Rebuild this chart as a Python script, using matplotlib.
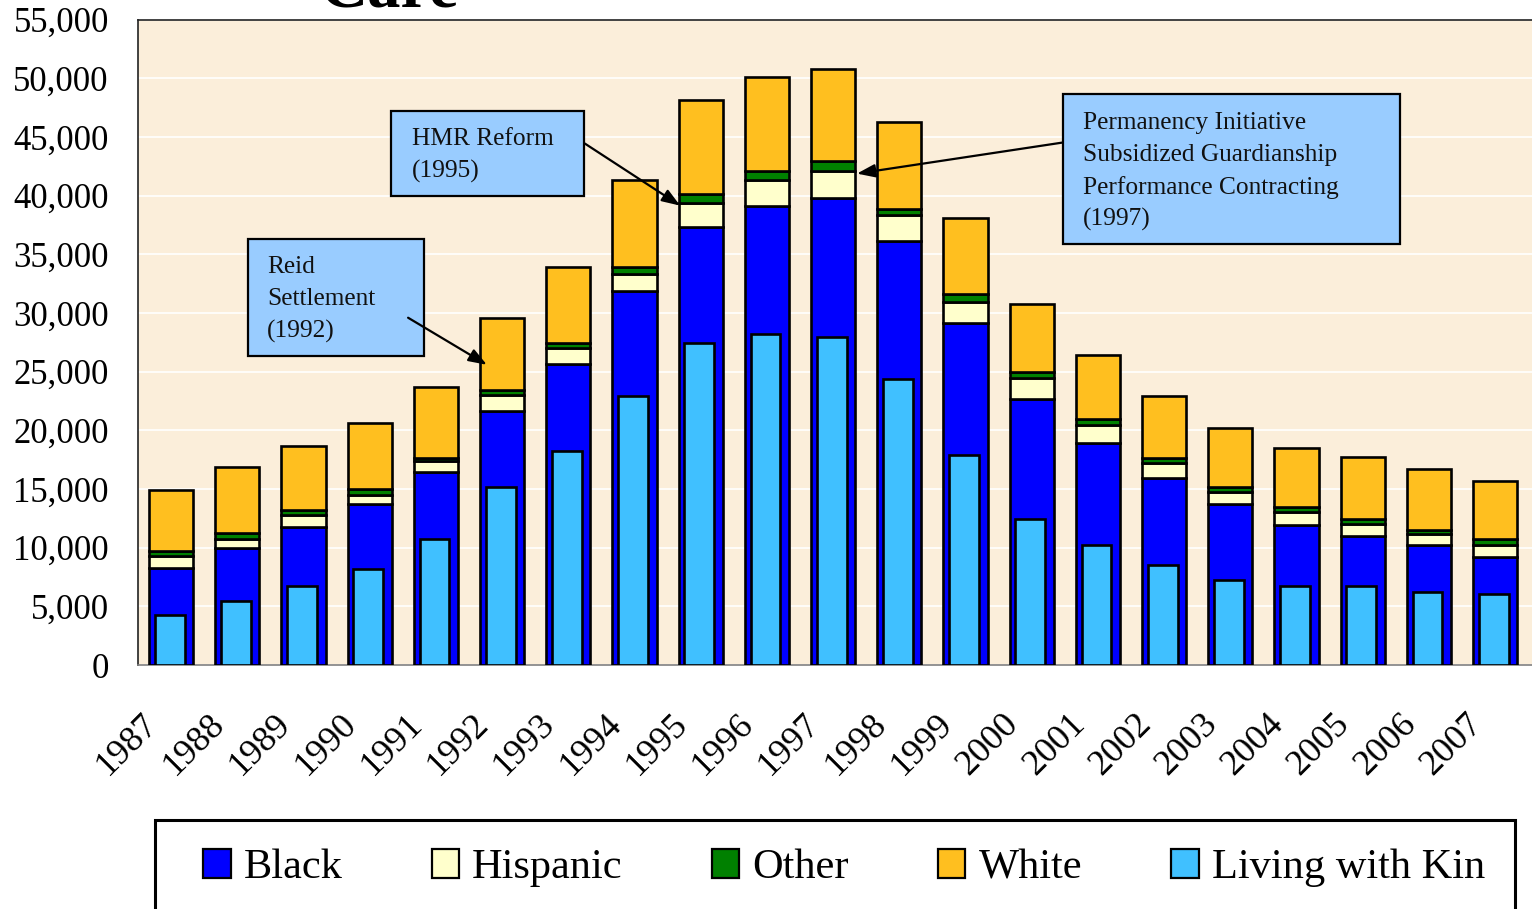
import matplotlib
matplotlib.use("Agg")
import matplotlib.pyplot as plt
import matplotlib.patches as mpatches
import matplotlib.transforms as mtransforms
from matplotlib.ticker import FuncFormatter, MultipleLocator
import numpy as np

plt.rcParams['font.family'] = ['Liberation Serif', 'DejaVu Serif']

years = ['1987', '1988', '1989', '1990', '1991', '1992', '1993', '1994', '1995', '1996', '1997',
         '1998', '1999', '2000', '2001', '2002', '2003', '2004', '2005', '2006', '2007']
black = [8300, 9950, 11740, 13730, 16480, 21660, 25670, 31900, 37350, 39080, 39820,
         36130, 29130, 22680, 18900, 15970, 13730, 11940, 11000, 10230, 9240]
hispanic = [950, 800, 1000, 740, 920, 1310, 1330, 1400, 2050, 2280, 2300,
            2240, 1770, 1770, 1570, 1280, 1050, 1130, 1020, 940, 990]
other = [500, 510, 470, 510, 280, 430, 400, 580, 740, 760, 850,
         510, 740, 480, 480, 430, 420, 400, 460, 340, 490]
white = [5170, 5650, 5470, 5680, 5970, 6200, 6480, 7480, 7960, 7940, 7850,
         7420, 6450, 5800, 5480, 5260, 4980, 5010, 5220, 5200, 4970]
kin = [4260, 5480, 6740, 8210, 10720, 15200, 18250, 22880, 27430, 28170, 27940,
       24390, 17900, 12420, 10230, 8500, 7250, 6740, 6740, 6250, 6030]

C_BLACK = '#0000FF'
C_HISP = '#FFFFCC'
C_OTHER = '#008000'
C_WHITE = '#FFBF1F'
C_KIN = '#40C0FF'

W, H = 1532, 909
fig = plt.figure(figsize=(W / 100, H / 100), dpi=100)
ax_left, ax_right, ax_top, ax_bottom = 138, 1540, 19.5, 665
ax = fig.add_axes([ax_left / W, (H - ax_bottom) / H, (ax_right - ax_left) / W, (ax_bottom - ax_top) / H])
ax.set_facecolor('#FBEEDA')

x = np.arange(len(years))
bw = 0.665
lw = 1.9
b = np.array(black, float)
h = np.array(hispanic, float)
o = np.array(other, float)
wv = np.array(white, float)
ax.bar(x, b, bw, color=C_BLACK, edgecolor='black', linewidth=lw, zorder=3, label='Black')
ax.bar(x, h, bw, bottom=b, color=C_HISP, edgecolor='black', linewidth=lw, zorder=3, label='Hispanic')
ax.bar(x, o, bw, bottom=b + h, color=C_OTHER, edgecolor='black', linewidth=lw, zorder=3, label='Other')
ax.bar(x, wv, bw, bottom=b + h + o, color=C_WHITE, edgecolor='black', linewidth=lw, zorder=3, label='White')
ax.bar(x - 0.02, kin, 0.45, color=C_KIN, edgecolor='black', linewidth=lw, zorder=4, label='Living with Kin')

ax.set_xlim(-0.5, -0.5 + (ax_right - ax_left) / 66.2)
ax.set_ylim(0, 55000)
ax.yaxis.set_major_locator(MultipleLocator(5000))
ax.yaxis.set_major_formatter(FuncFormatter(lambda v, p: f'{int(v):,}'))
ax.grid(axis='y', color='white', linewidth=1.2, zorder=0)
ax.set_axisbelow(True)
ax.tick_params(axis='y', length=0, pad=21, labelsize=25)
ax.tick_params(axis='x', length=0, labelsize=26)
ax.set_xticks(x)
ax.set_xticklabels(years, rotation=45, ha='right', va='center', rotation_mode='anchor')
offset = mtransforms.ScaledTranslation(-18 / 100, -49 / 100, fig.dpi_scale_trans)
for lab in ax.get_xticklabels():
    lab.set_transform(lab.get_transform() + offset)

ax.spines['right'].set_visible(False)
ax.spines['top'].set_color('#222222')
ax.spines['top'].set_linewidth(1.2)
ax.spines['left'].set_color('#222222')
ax.spines['left'].set_linewidth(1.2)
ax.spines['bottom'].set_color('#808080')
ax.spines['bottom'].set_linewidth(1.2)

# Annotation boxes
box_fc = '#99CCFF'
def note_box(x0, x1, y0, y1, lines, tx, ys):
    ax.add_patch(mpatches.Rectangle((x0, y0), x1 - x0, y1 - y0, facecolor=box_fc,
                                    edgecolor='black', linewidth=1.6, zorder=6))
    for line, yy in zip(lines, ys):
        ax.text(tx, yy, line, fontsize=18.3, ha='left', va='center', zorder=7, color='#111111')

note_box(1.16, 3.82, 26350, 36330, ['Reid', 'Settlement', '(1992)'], 1.45, [33900, 31170, 28440])
note_box(3.32, 6.24, 39990, 47240, ['HMR Reform', '(1995)'], 3.64, [44800, 42070])
note_box(13.47, 18.56, 35900, 48610,
         ['Permanency Initiative', 'Subsidized Guardianship', 'Performance Contracting', '(1997)'],
         13.77, [46170, 43440, 40710, 37980])

arrow_kw = dict(arrowstyle='-|>,head_length=1.1,head_width=0.4', color='black', lw=1.6,
                shrinkA=0, shrinkB=0)
ax.annotate('', xy=(4.77, 25580), xytext=(3.58, 29590), arrowprops=arrow_kw, zorder=8)
ax.annotate('', xy=(7.69, 39140), xytext=(6.25, 44430), arrowprops=arrow_kw, zorder=8)
ax.annotate('', xy=(10.36, 41870), xytext=(13.46, 44510), arrowprops=arrow_kw, zorder=8)

# Title remnant (cut off at the top, as in the reference)
fig.text(320 / W, (H - 7) / H, 'Care', fontsize=48, fontweight='bold', ha='left', va='baseline')

# Legend
handles, labels = ax.get_legend_handles_labels()
leg = fig.legend(handles, labels, loc='center left', bbox_to_anchor=(203 / W, (H - 868) / H),
                 ncol=5, frameon=False, fontsize=30.5, borderpad=0, borderaxespad=0,
                 handlelength=0.65, handleheight=0.65, handletextpad=0.31, columnspacing=2.1)
for p in leg.get_patches():
    p.set_linewidth(1.6)
fig.patches.append(mpatches.Rectangle((155 / W, -0.02), (1515 - 155) / W, (H - 820) / H + 0.02,
                                      transform=fig.transFigure, facecolor='none',
                                      edgecolor='black', linewidth=2.2))

fig.savefig('out.png', dpi=100)
